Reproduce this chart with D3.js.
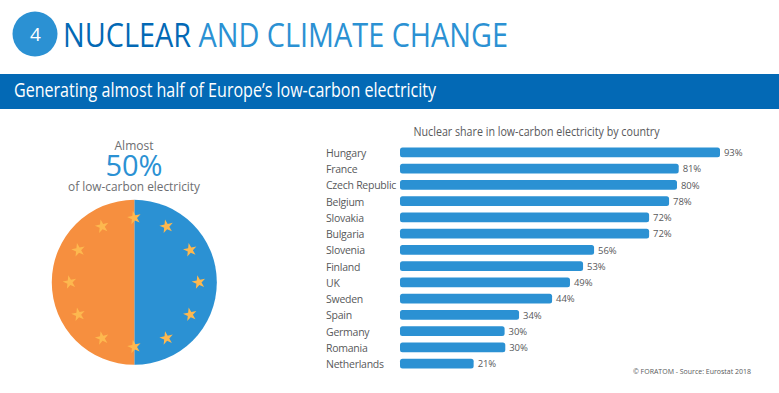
<!DOCTYPE html>
<html>
<head>
<meta charset="utf-8">
<script src="https://cdn.jsdelivr.net/npm/d3@7"></script>
<style>
    html, body { margin: 0; padding: 0; background: #fff; }
    text { font-family: "Open Sans", sans-serif; }
</style>
</head>
<body>
<div id="chart"></div>
<script>
// Values
const countries = ["Hungary", "France", "Czech Republic", "Belgium", "Slovakia", "Bulgaria", "Slovenia",
    "Finland", "UK", "Sweden", "Spain", "Germany", "Romania", "Netherlands"];
const shareLabels = [93, 81, 80, 78, 72, 72, 56, 53, 49, 44, 34, 30, 30, 21];
// measured bar lengths, they do not follow the printed labels exactly
const barLengths = [93, 81, 80.5, 78.2, 72.4, 72.4, 56.4, 53.2, 49.4, 44.2, 34.6, 30.4, 30.6, 21.4];
const pieShares = [50, 50];
const pieColors = ["#2b91d3", "#f68f3f"];
const starHours = d3.range(12);

const width = 779;
const height = 393;

const svg = d3.select("#chart")
    .append("svg")
    .attr("width", width)
    .attr("height", height)
    .style("display", "block");

// Header
svg.append("circle")
    .attr("cx", 35)
    .attr("cy", 34)
    .attr("r", 22.5)
    .attr("fill", "#2b91d3");

svg.append("text")
    .attr("x", 35.5)
    .attr("y", 41)
    .attr("text-anchor", "middle")
    .attr("font-size", 19)
    .attr("fill", "#fff")
    .text("4");

const title = svg.append("text")
    .attr("x", 63)
    .attr("y", 46.5)
    .attr("font-size", 32)
    .attr("textLength", 445)
    .attr("lengthAdjust", "spacingAndGlyphs");
title.append("tspan").attr("fill", "#0369b5").text("NUCLEAR ");
title.append("tspan").attr("fill", "#2b91d3").text("AND CLIMATE CHANGE");

svg.append("rect")
    .attr("x", 0)
    .attr("y", 74)
    .attr("width", width)
    .attr("height", 35)
    .attr("fill", "#0369b5");

svg.append("text")
    .attr("x", 14)
    .attr("y", 97)
    .attr("font-size", 20.5)
    .attr("fill", "#fff")
    .attr("textLength", 422)
    .attr("lengthAdjust", "spacingAndGlyphs")
    .text("Generating almost half of Europe\u2019s low-carbon electricity");

// Left side: pie with the EU stars
const pieX = 134.3;
const pieY = 282.3;
const pieR = 82.5;
const starR = 64.5;

svg.append("text")
    .attr("x", 134)
    .attr("y", 150)
    .attr("text-anchor", "middle")
    .attr("font-size", 12)
    .attr("fill", "#6d6e71")
    .text("Almost");

svg.append("text")
    .attr("x", 134)
    .attr("y", 176)
    .attr("text-anchor", "middle")
    .attr("font-size", 29)
    .attr("fill", "#2b91d3")
    .text("50%");

svg.append("text")
    .attr("x", 134)
    .attr("y", 191)
    .attr("text-anchor", "middle")
    .attr("font-size", 12)
    .attr("fill", "#6d6e71")
    .attr("textLength", 132)
    .attr("lengthAdjust", "spacingAndGlyphs")
    .text("of low-carbon electricity");

const pie = d3.pie().sort(null);
const arc = d3.arc().innerRadius(0).outerRadius(pieR);
const pieG = svg.append("g")
    .attr("transform", "translate(" + pieX + "," + pieY + ")");

pieG.selectAll("path")
    .data(pie(pieShares))
    .enter()
    .append("path")
    .attr("d", arc)
    .attr("fill", (d, i) => pieColors[i]);

const starScale = d3.scaleLinear().domain([0, 12]).range([0, 2 * Math.PI]);

pieG.selectAll(".star")
    .data(starHours)
    .enter()
    .append("path")
    .attr("class", "star")
    .attr("d", d3.symbol(d3.symbolStar, 58))
    .attr("transform", d => "translate(" + (starR * Math.sin(starScale(d))) + "," + (-starR * Math.cos(starScale(d))) + ") rotate(-12)")
    .attr("fill", "#fdb84f");

// Right side: bars
const x = d3.scaleLinear().domain([0, 93]).range([400, 720]);
const y = d3.scaleBand().domain(countries).range([144.3, 371.8]).paddingInner(0.4).paddingOuter(0.2);

svg.append("text")
    .attr("x", 536.5)
    .attr("y", 136)
    .attr("text-anchor", "middle")
    .attr("font-size", 12.5)
    .attr("fill", "#58595b")
    .attr("textLength", 246)
    .attr("lengthAdjust", "spacingAndGlyphs")
    .text("Nuclear share in low-carbon electricity by country");

svg.selectAll(".bar")
    .data(countries)
    .enter()
    .append("rect")
    .attr("class", "bar")
    .attr("x", x(0))
    .attr("y", d => y(d))
    .attr("width", (d, i) => x(barLengths[i]) - x(0))
    .attr("height", y.bandwidth())
    .attr("rx", 2.5)
    .attr("fill", "#2b91d3");

svg.selectAll(".country")
    .data(countries)
    .enter()
    .append("text")
    .attr("class", "country")
    .attr("x", 326)
    .attr("y", d => y(d) + y.bandwidth() / 2 + 4.5)
    .attr("font-size", 10.5)
    .attr("letter-spacing", -0.25)
    .attr("fill", "#58595b")
    .text(d => d);

svg.selectAll(".share")
    .data(countries)
    .enter()
    .append("text")
    .attr("class", "share")
    .attr("x", (d, i) => x(barLengths[i]) + 4)
    .attr("y", d => y(d) + y.bandwidth() / 2 + 3.8)
    .attr("font-size", 9.5)
    .attr("letter-spacing", -0.1)
    .attr("fill", "#58595b")
    .text((d, i) => shareLabels[i] + "%");

svg.append("text")
    .attr("x", 751)
    .attr("y", 374)
    .attr("text-anchor", "end")
    .attr("font-size", 7.5)
    .attr("fill", "#58595b")
    .attr("textLength", 118)
    .attr("lengthAdjust", "spacingAndGlyphs")
    .text("\u00a9 FORATOM - Source: Eurostat 2018");
</script>
</body>
</html>
